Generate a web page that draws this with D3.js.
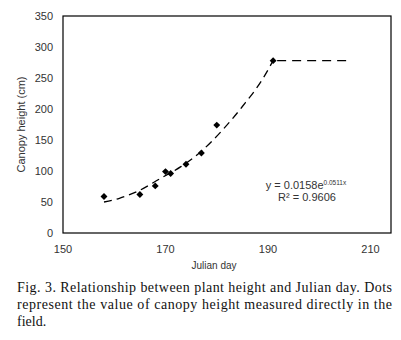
<!DOCTYPE html>
<html>
<head>
<meta charset="utf-8">
<script src="https://cdn.jsdelivr.net/npm/d3@7"></script>
<style>
  body { margin: 0; background: #fff; }
</style>
</head>
<body>
<div id="container"></div>
<script>
// measured canopy heights (dots)
const days = [158, 165, 168, 170, 171, 174, 177, 180, 191];
const heights = [59, 62, 76, 99, 96, 111, 129, 174, 278];

// exponential trend line
const trendDays = [158, 161, 165, 169, 173, 177, 181, 185, 189, 191];
const trendVals = [50, 56, 69, 88, 107, 132, 165, 204, 249, 278];

// plateau after last measurement
const flatDays = [191, 206];
const flatVals = [278, 278];

const xTicks = [150, 170, 190, 210];
const yTicks = [0, 50, 100, 150, 200, 250, 300, 350];

const captionLines = [
  "Fig. 3. Relationship between plant height and Julian day. Dots",
  "represent the value of canopy height measured directly in the",
  "field."
];

const width = 401, height = 340;
const mLeft = 63, mRight = 391, mTop = 16, mBottom = 233;

const svg = d3.select("#container").append("svg")
    .attr("width", width)
    .attr("height", height);

const x = d3.scaleLinear().domain([150, 214]).range([mLeft, mRight]);
const y = d3.scaleLinear().domain([0, 350]).range([mBottom, mTop]);

// plot frame
svg.append("rect")
    .attr("x", mLeft).attr("y", mTop)
    .attr("width", mRight - mLeft).attr("height", mBottom - mTop)
    .attr("fill", "none").attr("stroke", "#000").attr("stroke-width", 1.2);

const axisFont = "'Liberation Sans', Arial, sans-serif";

// y axis labels
svg.append("g").selectAll("text").data(yTicks).enter().append("text")
    .attr("x", mLeft - 10)
    .attr("y", d => y(d) + 4)
    .attr("text-anchor", "end")
    .attr("font-family", axisFont).attr("font-size", 11).attr("fill", "#333")
    .text(d => d);

// x axis labels
svg.append("g").selectAll("text").data(xTicks).enter().append("text")
    .attr("x", d => x(d))
    .attr("y", 253)
    .attr("text-anchor", "middle")
    .attr("font-family", axisFont).attr("font-size", 11).attr("fill", "#333")
    .text(d => d);

svg.append("text")
    .attr("transform", `translate(25, ${(mTop + mBottom) / 2}) rotate(-90)`)
    .attr("text-anchor", "middle")
    .attr("font-family", axisFont).attr("font-size", 11).attr("fill", "#333")
    .text("Canopy height (cm)");

svg.append("text")
    .attr("x", 214).attr("y", 269)
    .attr("text-anchor", "middle")
    .attr("font-family", axisFont).attr("font-size", 10).attr("fill", "#333")
    .text("Julian day");

// trend + plateau lines
const line = d3.line().x(d => x(d[0])).y(d => y(d[1])).curve(d3.curveMonotoneX);

svg.append("path")
    .datum(d3.zip(trendDays, trendVals))
    .attr("d", line)
    .attr("fill", "none").attr("stroke", "#000").attr("stroke-width", 1.3)
    .attr("stroke-dasharray", "8,5");

svg.append("path")
    .datum(d3.zip(flatDays, flatVals))
    .attr("d", d3.line().x(d => x(d[0])).y(d => y(d[1])))
    .attr("fill", "none").attr("stroke", "#000").attr("stroke-width", 1.3)
    .attr("stroke-dasharray", "9,6")
    .attr("stroke-dashoffset", -4);

// dots
const diamond = d3.symbol().type(d3.symbolSquare).size(24);
svg.append("g").selectAll("path").data(d3.zip(days, heights)).enter().append("path")
    .attr("d", diamond)
    .attr("transform", d => `translate(${x(d[0])}, ${y(d[1])}) rotate(45)`)
    .attr("fill", "#000");

// equation
const eq = svg.append("text")
    .attr("x", 306).attr("y", 189)
    .attr("text-anchor", "middle")
    .attr("font-family", axisFont).attr("font-size", 11).attr("fill", "#333");
eq.append("tspan").text("y = 0.0158e");
eq.append("tspan").attr("dy", -4).attr("font-size", 6.5).text("0.0511x");

svg.append("text")
    .attr("x", 307).attr("y", 201)
    .attr("text-anchor", "middle")
    .attr("font-family", axisFont).attr("font-size", 11).attr("fill", "#333")
    .text("R² = 0.9606");

// caption
svg.append("g").selectAll("text").data(captionLines).enter().append("text")
    .attr("x", 17)
    .attr("y", (d, i) => 292 + i * 17)
    .attr("font-family", "'Liberation Serif', 'Times New Roman', serif")
    .attr("font-size", 14).attr("fill", "#111")
    .attr("textLength", (d, i) => i < 2 ? 375 : null)
    .attr("lengthAdjust", "spacing")
    .text(d => d);
</script>
</body>
</html>
